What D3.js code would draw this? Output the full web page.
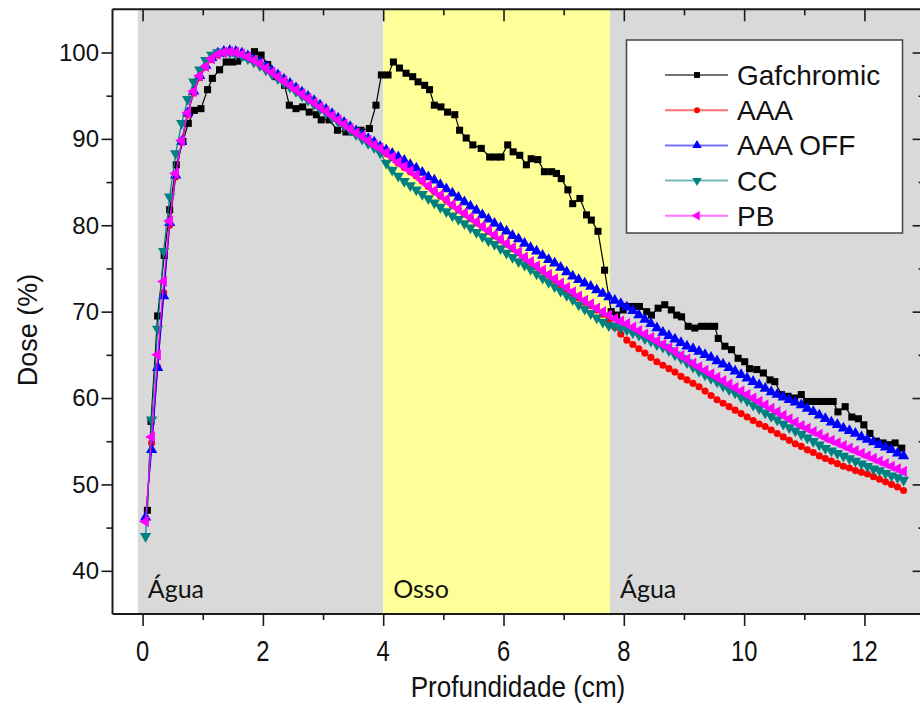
<!DOCTYPE html>
<html>
<head>
<meta charset="utf-8">
<script src="https://cdn.jsdelivr.net/npm/d3@7"></script>
<style>
  body { margin: 0; background: #fff; }
  svg { display: block; font-family: "Liberation Sans", Arial, sans-serif; }
</style>
</head>
<body>
<svg id="chart" width="920" height="707"></svg>
<script>
// depth grid of the calculated curves (cm)
const depths = [0.05,0.15,0.25,0.35,0.45,0.55,0.65,0.75,0.85,0.95,
  1.05,1.15,1.25,1.35,1.45,1.55,1.65,1.75,1.85,1.95,
  2.05,2.15,2.25,2.35,2.45,2.55,2.65,2.75,2.85,2.95,
  3.05,3.15,3.25,3.35,3.45,3.55,3.65,3.75,3.85,3.95,
  4.05,4.15,4.25,4.35,4.45,4.55,4.65,4.75,4.85,4.95,
  5.05,5.15,5.25,5.35,5.45,5.55,5.65,5.75,5.85,5.95,
  6.05,6.15,6.25,6.35,6.45,6.55,6.65,6.75,6.85,6.95,
  7.05,7.15,7.25,7.35,7.45,7.55,7.65,7.75,7.85,7.95,
  8.05,8.15,8.25,8.35,8.45,8.55,8.65,8.75,8.85,8.95,
  9.05,9.15,9.25,9.35,9.45,9.55,9.65,9.75,9.85,9.95,
  10.05,10.15,10.25,10.35,10.45,10.55,10.65,10.75,10.85,10.95,
  11.05,11.15,11.25,11.35,11.45,11.55,11.65,11.75,11.85,11.95,
  12.05,12.15,12.25,12.35,12.45,12.55,12.65];

const doseAAA = [45.9,54.8,63.6,72.2,80.0,85.6,89.6,92.8,95.3,97.1,
  98.3,99.2,99.7,99.9,100.0,99.9,99.7,99.4,99.0,98.6,
  98.1,97.6,97.1,96.6,96.1,95.6,95.1,94.6,94.1,93.6,
  93.1,92.6,92.1,91.6,91.1,90.6,90.1,89.6,89.2,88.8,
  88.3,87.8,87.2,86.7,86.2,85.7,85.1,84.5,83.9,83.4,
  82.9,82.3,81.8,81.3,80.8,80.3,79.8,79.3,78.8,78.3,
  77.8,77.3,76.8,76.2,75.7,75.2,74.7,74.2,73.7,73.1,
  72.6,72.1,71.6,71.1,70.7,70.2,69.7,69.0,68.2,67.4,
  66.7,66.2,65.7,65.2,64.7,64.2,63.8,63.4,63.0,62.5,
  62.1,61.7,61.3,60.8,60.3,59.8,59.4,59.0,58.6,58.2,
  57.8,57.4,57.0,56.7,56.3,55.9,55.5,55.1,54.7,54.4,
  54.0,53.7,53.3,53.0,52.7,52.4,52.1,51.9,51.6,51.4,
  51.2,50.9,50.6,50.3,50.0,49.7,49.3];

const doseAAAOff = [46.2,54.0,63.5,71.8,80.3,85.8,89.7,93.0,95.5,97.3,
  98.5,99.4,99.9,100.1,100.2,100.1,99.9,99.6,99.2,98.9,
  98.4,97.9,97.4,96.9,96.4,95.9,95.4,94.9,94.4,93.9,
  93.4,92.9,92.4,91.9,91.4,90.9,90.5,90.0,89.6,89.1,
  88.7,88.3,87.9,87.5,87.0,86.6,86.1,85.6,85.2,84.7,
  84.2,83.7,83.2,82.7,82.2,81.7,81.2,80.7,80.2,79.7,
  79.3,78.8,78.4,77.9,77.4,77.0,76.5,76.0,75.6,75.1,
  74.6,74.1,73.7,73.3,72.9,72.5,72.1,71.7,71.3,70.9,
  70.5,70.1,69.6,69.1,68.6,68.1,67.6,67.2,66.8,66.4,
  66.0,65.7,65.4,65.0,64.7,64.3,63.9,63.5,63.1,62.7,
  62.3,61.9,61.5,61.1,60.7,60.4,60.1,59.8,59.5,59.2,
  58.8,58.4,58.0,57.6,57.2,56.9,56.5,56.2,55.9,55.5,
  55.2,54.9,54.6,54.3,54.0,53.6,53.3];

const doseCC = [44.0,57.5,68.0,77.0,83.3,88.3,91.8,94.6,96.6,98.0,
  99.1,99.7,100.0,100.1,100.0,99.8,99.6,99.3,98.9,98.5,
  98.0,97.5,97.0,96.5,96.0,95.5,95.0,94.5,94.0,93.5,
  93.0,92.5,92.0,91.5,91.0,90.5,90.0,89.5,89.0,88.4,
  87.2,86.4,85.7,85.1,84.6,84.1,83.6,83.1,82.6,82.1,
  81.6,81.1,80.7,80.2,79.7,79.2,78.7,78.2,77.8,77.3,
  76.8,76.3,75.8,75.4,74.9,74.4,73.9,73.4,72.9,72.4,
  71.9,71.4,70.8,70.3,69.8,69.3,68.8,68.4,68.3,68.1,
  67.9,67.6,67.3,66.9,66.6,66.2,65.9,65.5,65.0,64.6,
  64.1,63.6,63.1,62.7,62.3,61.9,61.4,61.0,60.6,60.1,
  59.7,59.2,58.8,58.3,57.9,57.5,57.0,56.6,56.2,55.8,
  55.4,55.0,54.6,54.2,53.9,53.6,53.3,53.0,52.7,52.4,
  52.1,51.8,51.6,51.3,51.0,50.8,50.5];

const dosePB = [45.7,55.5,65.0,73.5,80.5,86.0,89.8,93.0,95.5,97.3,
  98.4,99.3,99.8,100.0,100.1,100.0,99.8,99.5,99.1,98.7,
  98.2,97.7,97.2,96.7,96.2,95.7,95.2,94.7,94.2,93.7,
  93.2,92.7,92.2,91.7,91.2,90.7,90.3,89.8,89.3,88.9,
  88.4,87.9,87.3,86.8,86.3,85.8,85.2,84.6,84.0,83.5,
  83.0,82.4,81.9,81.4,80.9,80.4,79.9,79.4,78.9,78.4,
  77.9,77.4,76.9,76.3,75.8,75.3,74.8,74.3,73.8,73.3,
  72.8,72.3,71.8,71.3,70.9,70.4,70.0,69.6,69.2,68.9,
  68.6,68.2,67.8,67.4,67.0,66.6,66.2,65.8,65.4,64.9,
  64.5,64.0,63.6,63.2,62.8,62.4,62.0,61.6,61.2,60.8,
  60.4,60.0,59.6,59.2,58.8,58.4,58.0,57.6,57.2,56.8,
  56.5,56.1,55.8,55.4,55.1,54.8,54.5,54.2,53.9,53.6,
  53.3,53.0,52.7,52.4,52.1,51.8,51.5];

// measured film (own depth points)
const gafDepths = [0.08,0.14,0.25,0.36,0.45,0.56,0.67,0.76,0.86,0.97,
  1.08,1.16,1.28,1.39,1.50,1.58,1.66,1.76,1.86,1.97,
  2.08,2.22,2.36,2.44,2.55,2.66,2.77,2.89,2.97,3.10,
  3.24,3.38,3.50,3.63,3.77,3.88,3.97,4.08,4.17,4.27,
  4.38,4.49,4.58,4.69,4.77,4.85,4.96,5.07,5.19,5.27,
  5.38,5.49,5.63,5.77,5.87,5.96,6.07,6.16,6.27,6.38,
  6.46,6.57,6.68,6.80,6.88,6.96,7.07,7.15,7.27,7.38,
  7.46,7.57,7.68,7.79,7.88,7.99,8.04,8.15,8.26,8.38,
  8.46,8.57,8.68,8.79,8.88,8.96,9.07,9.18,9.29,9.40,
  9.51,9.57,9.68,9.79,9.90,10.01,10.09,10.21,10.32,10.43,
  10.51,10.62,10.73,10.84,10.95,11.04,11.15,11.26,11.37,11.48,
  11.56,11.68,11.79,11.90,11.99,12.09,12.20,12.31,12.42,12.51,12.62];
const doseGaf = [47.0,57.3,69.5,76.5,81.8,87.0,89.7,91.8,93.3,93.5,
  95.7,97.0,98.0,98.9,98.9,99.0,99.5,99.6,100.1,99.7,
  98.6,97.2,96.2,93.9,93.5,93.7,93.1,92.8,92.2,92.2,
  91.0,90.8,90.8,91.0,91.2,93.9,97.4,97.4,98.9,98.2,
  97.6,97.2,96.6,96.2,95.7,93.9,93.7,93.1,92.8,91.0,
  90.1,89.3,88.9,87.9,87.9,87.9,89.3,88.5,88.1,87.0,
  87.7,87.6,86.2,86.2,86.0,85.4,84.1,82.5,83.1,81.2,
  80.6,79.3,74.8,70.0,69.6,70.2,70.6,70.6,70.6,70.0,
  69.6,70.4,70.8,70.2,69.6,69.4,68.3,68.1,68.3,68.3,
  68.3,66.9,66.0,65.6,64.6,64.2,63.4,63.3,62.9,62.1,
  61.9,60.4,60.2,60.0,60.4,59.6,59.6,59.6,59.6,59.6,
  58.4,59.0,57.8,57.6,56.9,55.9,55.0,54.8,54.6,54.8,54.2];

const seriesNames = ["Gafchromic", "AAA", "AAA OFF", "CC", "PB"];
const seriesColors = ["#000000", "#ff0000", "#0000ff", "#008080", "#ff00ff"];

// medium bands along depth
const bandStarts = [-0.08, 4.0, 7.77];
const bandEnds = [4.0, 7.77, 13];
const bandNames = ["Água", "Osso", "Água"];
const bandColors = ["#d9d9d9", "#ffff99", "#d9d9d9"];

const xTicks = [0, 2, 4, 6, 8, 10, 12];
const yTicks = [40, 50, 60, 70, 80, 90, 100];

const svg = d3.select("#chart"),
      plotLeft = 112.5, plotRight = 924.6, plotTop = 9.3, plotBottom = 614;

const x = d3.scaleLinear().domain([-0.5, 13]).range([plotLeft, plotRight]);
const y = d3.scaleLinear().domain([35, 105]).range([plotBottom, plotTop]);

// background bands
bandStarts.forEach((s, i) => {
    svg.append("rect")
        .attr("x", x(s))
        .attr("y", plotTop)
        .attr("width", x(bandEnds[i]) - x(s))
        .attr("height", plotBottom - plotTop)
        .attr("fill", bandColors[i]);
    svg.append("text")
        .attr("x", x(s) + 10)
        .attr("y", 598)
        .attr("font-family", "Lato, 'Open Sans', sans-serif")
        .attr("font-size", 25)
        .attr("fill", "#111")
        .text(bandNames[i]);
});

// series
const symbols = [
    {type: d3.symbolSquare, size: 50, rot: 0},
    {type: d3.symbolCircle, size: 40, rot: 0},
    {type: d3.symbolTriangle, size: 55, rot: 0},
    {type: d3.symbolTriangle, size: 55, rot: 180},
    {type: d3.symbolTriangle, size: 55, rot: -90}
];

const seriesData = [
    gafDepths.map((d, i) => [d, doseGaf[i]]),
    depths.map((d, i) => [d, doseAAA[i]]),
    depths.map((d, i) => [d, doseAAAOff[i]]),
    depths.map((d, i) => [d, doseCC[i]]),
    depths.map((d, i) => [d, dosePB[i]])
];

const line = d3.line().x(d => x(d[0])).y(d => y(d[1]));

seriesData.forEach((pts, i) => {
    const g = svg.append("g");
    g.append("path")
        .datum(pts)
        .attr("d", line)
        .attr("fill", "none")
        .attr("stroke", seriesColors[i])
        .attr("stroke-width", 1.2);
    const sym = d3.symbol().type(symbols[i].type).size(symbols[i].size);
    g.selectAll("path.m")
        .data(pts)
        .join("path")
        .attr("class", "m")
        .attr("d", sym)
        .attr("transform", d => `translate(${x(d[0])},${y(d[1])}) rotate(${symbols[i].rot})`)
        .attr("fill", seriesColors[i]);
});

// frame and axes
const frame = svg.append("g").attr("stroke", "#1a1a1a").attr("stroke-width", 2);
frame.append("line").attr("x1", plotLeft).attr("x2", 920).attr("y1", plotTop).attr("y2", plotTop);
frame.append("line").attr("x1", plotLeft).attr("x2", 920).attr("y1", plotBottom).attr("y2", plotBottom);
frame.append("line").attr("x1", plotLeft).attr("x2", plotLeft).attr("y1", plotTop).attr("y2", plotBottom);
frame.append("line").attr("x1", plotRight).attr("x2", plotRight).attr("y1", plotTop).attr("y2", plotBottom);

function styleAxis(g) {
    g.select(".domain").remove();
    g.selectAll(".tick line").attr("stroke", "#1a1a1a").attr("stroke-width", 1.6);
}

const minorX = [1, 3, 5, 7, 9, 11];
const minorY = [45, 55, 65, 75, 85, 95];

// bottom
svg.append("g")
    .attr("transform", `translate(0,${plotBottom})`)
    .call(d3.axisBottom(x).tickValues(xTicks).tickSize(12).tickFormat(""))
    .call(styleAxis);
svg.append("g")
    .attr("transform", `translate(0,${plotBottom})`)
    .call(d3.axisBottom(x).tickValues(minorX).tickSize(6).tickFormat(""))
    .call(styleAxis);
// top (inward)
svg.append("g")
    .attr("transform", `translate(0,${plotTop})`)
    .call(d3.axisBottom(x).tickValues(xTicks).tickSize(12).tickFormat(""))
    .call(styleAxis);
svg.append("g")
    .attr("transform", `translate(0,${plotTop})`)
    .call(d3.axisBottom(x).tickValues(minorX).tickSize(6).tickFormat(""))
    .call(styleAxis);
// left
svg.append("g")
    .attr("transform", `translate(${plotLeft},0)`)
    .call(d3.axisLeft(y).tickValues(yTicks).tickSize(11).tickFormat(""))
    .call(styleAxis);
svg.append("g")
    .attr("transform", `translate(${plotLeft},0)`)
    .call(d3.axisLeft(y).tickValues(minorY).tickSize(6).tickFormat(""))
    .call(styleAxis);
// right (inward)
svg.append("g")
    .attr("transform", `translate(${plotRight},0)`)
    .call(d3.axisLeft(y).tickValues(yTicks).tickSize(12).tickFormat(""))
    .call(styleAxis);
svg.append("g")
    .attr("transform", `translate(${plotRight},0)`)
    .call(d3.axisLeft(y).tickValues(minorY).tickSize(6).tickFormat(""))
    .call(styleAxis);

// tick labels
svg.append("g").selectAll("text")
    .data(yTicks)
    .join("text")
    .attr("x", 99)
    .attr("y", d => y(d))
    .attr("dy", "0.35em")
    .attr("text-anchor", "end")
    .attr("font-size", 24)
    .attr("fill", "#111")
    .text(d => d);

svg.append("g").selectAll("text")
    .data(xTicks)
    .join("text")
    .attr("transform", d => `translate(${x(d)},661) scale(0.82,1)`)
    .attr("text-anchor", "middle")
    .attr("font-size", 29)
    .attr("fill", "#111")
    .text(d => d);

// axis titles
svg.append("text")
    .attr("transform", "translate(518,697) scale(0.9,1)")
    .attr("text-anchor", "middle")
    .attr("font-size", 29)
    .attr("fill", "#111")
    .text("Profundidade (cm)");

svg.append("text")
    .attr("transform", "translate(37,330) rotate(-90)")
    .attr("text-anchor", "middle")
    .attr("font-size", 27)
    .attr("fill", "#111")
    .text("Dose (%)");

// legend
const legend = svg.append("g");
legend.append("rect")
    .attr("x", 626.5).attr("y", 40)
    .attr("width", 276).attr("height", 193)
    .attr("fill", "#fff")
    .attr("stroke", "#444")
    .attr("stroke-width", 1.5);

seriesNames.forEach((name, i) => {
    const ly = 75 + i * 35.2;
    legend.append("line")
        .attr("x1", 665).attr("x2", 728)
        .attr("y1", ly).attr("y2", ly)
        .attr("stroke", seriesColors[i])
        .attr("stroke-opacity", 0.55)
        .attr("stroke-width", 2);
    legend.append("path")
        .attr("d", d3.symbol().type(symbols[i].type).size(symbols[i].size * 0.7))
        .attr("transform", `translate(697,${ly}) rotate(${symbols[i].rot})`)
        .attr("fill", seriesColors[i]);
    legend.append("text")
        .attr("x", 737)
        .attr("y", ly + 10)
        .attr("font-size", 28)
        .attr("fill", "#111")
        .text(name);
});
</script>
</body>
</html>
